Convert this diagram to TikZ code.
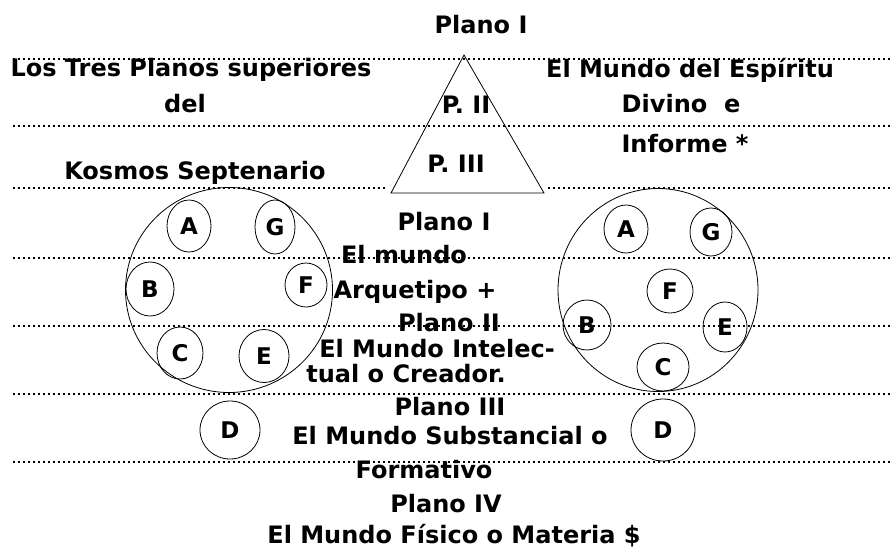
\documentclass[tikz,border=0pt]{standalone}
\usepackage{fontspec}
\setmainfont{DejaVu Sans}
\usepackage{tikz}
\usetikzlibrary{shapes.geometric}

\begin{document}
\begin{tikzpicture}[x=1pt,y=-1pt,
		lbl/.style={anchor=base, inner sep=0pt, font=\fontsize{24}{28}\selectfont\bfseries},
		orb/.style={shape=ellipse, draw=black, line width=0.8pt, inner sep=0pt, font=\fontsize{23}{27}\selectfont\bfseries},
		plane/.style={line width=1.8pt, dash pattern=on 1.8pt off 3.2pt}]
				\useasboundingbox (0,0) rectangle (890,549);
				% planos
				\foreach \y in {59,126,258,326,394,462}
					\draw[plane] (13,\y) -- (890,\y);
				\draw[plane] (13,188) -- (385,188);
				\draw[plane] (548,188) -- (890,188);
				% triangulo
				\coordinate (t) at (464,55);
				\coordinate (tl) at (391,193);
				\coordinate (tr) at (544,193);
				\draw[line width=0.8pt] (t) -- (tl) -- (tr) -- cycle;
				% textos
				\node[lbl] (p1) at (481,33) {Plano I};
				\node[lbl] (tres) at (191,76) {Los Tres Planos superiores};
				\node[lbl] (del) at (185,112) {del};
				\node[lbl] (kos) at (195,179) {Kosmos Septenario};
				\node[lbl] (pii) at (466,113) {P. II};
				\node[lbl] (piii) at (456,172) {P. III};
				\node[lbl] (esp) at (690,77) {El Mundo del Espíritu};
				\node[lbl] (div) at (681,112) {Divino\ \ e};
				\node[lbl] (inf) at (685,152) {Informe *};
				\node[lbl] (q1) at (444,230) {Plano I};
				\node[lbl] (arq) at (404,263) {El mundo};
				\node[lbl] (arq2) at (415,298) {Arquetipo +};
				\node[lbl] (q2) at (449,331) {Plano II};
				\node[lbl] (int) at (437,357) {El Mundo Intelec-};
				\node[lbl] (int2) at (406,382) {tual o Creador.};
				\node[lbl] (q3) at (450,415) {Plano III};
				\node[lbl] (sub) at (450,444) {El Mundo Substancial o};
				\node[lbl] (sub2) at (424,478) {Formativo};
				\node[lbl] (q4) at (446,512) {Plano IV};
				\node[lbl] (fis) at (454,543) {El Mundo Físico o Materia \$};
				% kosmos izquierdo
				\node[orb, minimum width=207, minimum height=205] (kl) at (229,290) {};
				\node[orb, minimum width=44, minimum height=52] (la) at (189,226) {A};
				\node[orb, minimum width=40, minimum height=54] (lg) at (275,227) {G};
				\node[orb, minimum width=48, minimum height=54] (lb) at (150,289) {B};
				\node[orb, minimum width=42, minimum height=44] (lf) at (306,285) {F};
				\node[orb, minimum width=46, minimum height=52] (lc) at (180,353) {C};
				\node[orb, minimum width=50, minimum height=53] (le) at (264,356) {E};
				\node[orb, minimum width=60, minimum height=58] (ld) at (230,430) {D};
				% kosmos derecho
				\node[orb, minimum width=200, minimum height=203] (kr) at (658,290) {};
				\node[orb, minimum width=44, minimum height=48] (ra) at (626,229) {A};
				\node[orb, minimum width=42, minimum height=48] (rg) at (711,232) {G};
				\node[orb, minimum width=46, minimum height=44] (rf) at (670,291) {F};
				\node[orb, minimum width=48, minimum height=50] (rb) at (587,325) {B};
				\node[orb, minimum width=44, minimum height=50] (re) at (725,327) {E};
				\node[orb, minimum width=52, minimum height=48] (rc) at (663,367) {C};
				\node[orb, minimum width=64, minimum height=62] (rd) at (663,430) {D};
			\end{tikzpicture}
\end{document}
